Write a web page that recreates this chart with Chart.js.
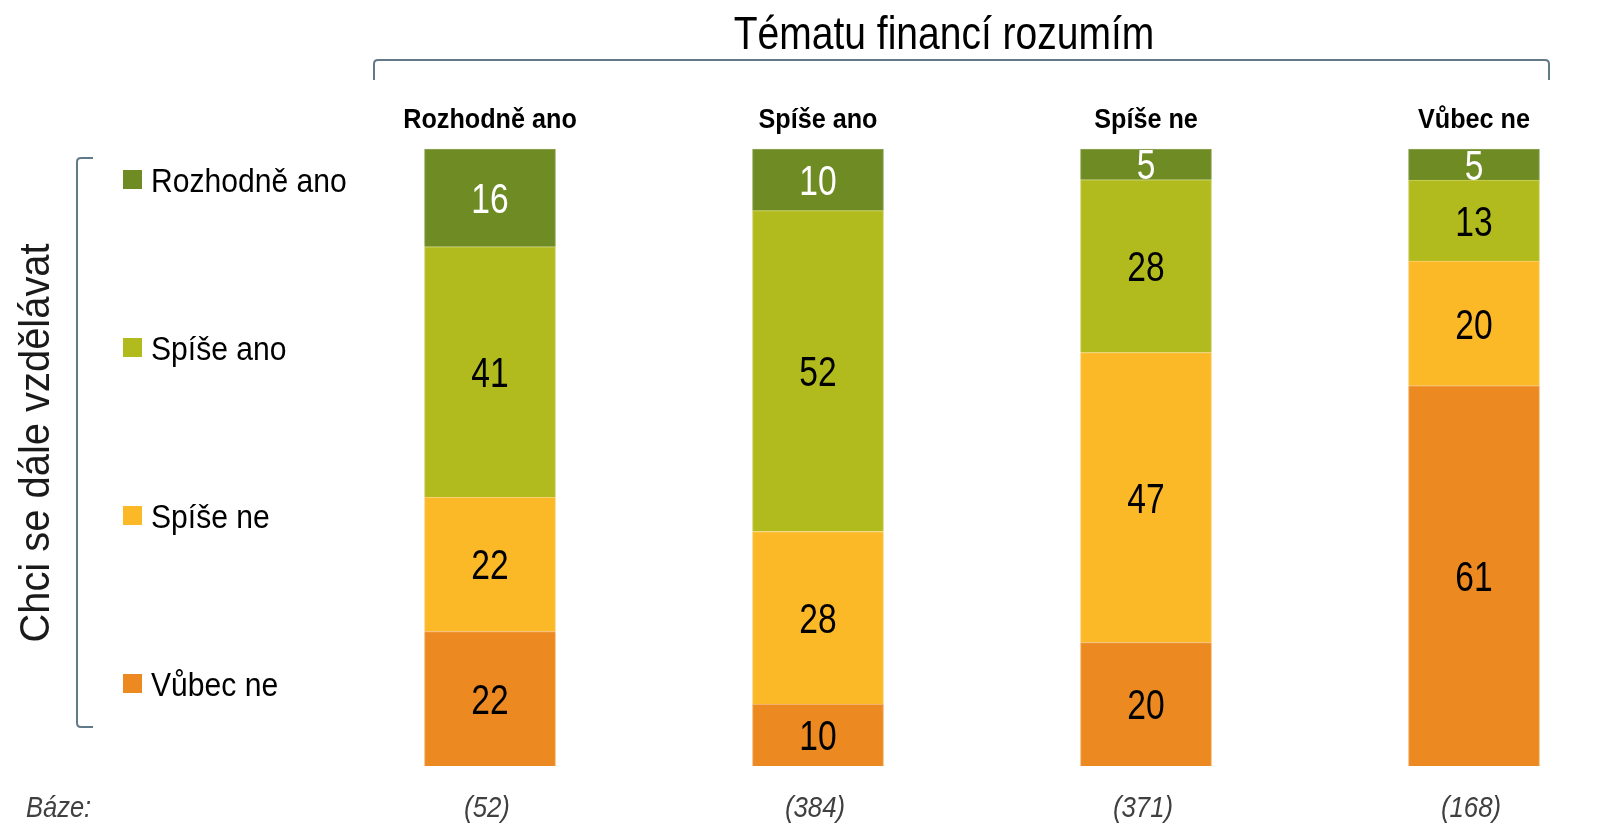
<!DOCTYPE html>
<html lang="cs">
<head>
<meta charset="utf-8">
<title>Tématu financí rozumím</title>
<script src="https://cdn.jsdelivr.net/npm/chart.js@4"></script>
<style>
  html, body { margin: 0; padding: 0; background: #ffffff; }
  canvas { display: block; }
</style>
</head>
<body>
<canvas id="graf" width="1624" height="826"></canvas>
<script>
// Data grafu
const kategorie = ['Rozhodně ano', 'Spíše ano', 'Spíše ne', 'Vůbec ne'];
const baze = ['(52)', '(384)', '(371)', '(168)'];
const rozhodneAno = [16, 10, 5, 5];
const spiseAno = [41, 52, 28, 13];
const spiseNe = [22, 28, 47, 20];
const vubecNe = [22, 10, 20, 61];

const barvy = {
    rozhodneAno: '#6e8b24',
    spiseAno: '#b2bb1e',
    spiseNe: '#fbb827',
    vubecNe: '#ec8a21'
};

const FONT = '"Liberation Sans", Arial, sans-serif';

// Součty pro každý sloupec (sloupce jsou do 100 %)
const soucty = kategorie.map((_, i) => rozhodneAno[i] + spiseAno[i] + spiseNe[i] + vubecNe[i]);
const podil = arr => arr.map((v, i) => v / soucty[i] * 100);

// Pomocná funkce na text (sx = vodorovné zúžení písma)
function text(ctx, s, x, y, font, barva, align, sx) {
    ctx.save();
    ctx.translate(x, y);
    ctx.scale(sx, 1);
    ctx.font = font;
    ctx.fillStyle = barva;
    ctx.textAlign = align;
    ctx.textBaseline = 'alphabetic';
    ctx.fillText(s, 0, 0);
    ctx.restore();
}

// Popisky, legenda, závorky a nadpisy
const popisky = {
    id: 'popisky',
    afterDatasetsDraw(chart) {
        const ctx = chart.ctx;
        const xs = chart.scales.x;

        // hodnoty uvnitř segmentů
        chart.data.datasets.forEach((ds, di) => {
            const meta = chart.getDatasetMeta(di);
            meta.data.forEach((el, i) => {
                const stred = (el.y + el.base) / 2;
                text(ctx, String(ds.hodnoty[i]), el.x, stred + 15, '42px ' + FONT, ds.barvaTextu, 'center', 0.8);
            });
        });

        // nadpis nahoře
        text(ctx, 'Tématu financí rozumím', 944, 49, '47px ' + FONT, '#000000', 'center', 0.83);

        // horní závorka
        ctx.save();
        ctx.strokeStyle = '#62798a';
        ctx.lineWidth = 2;
        ctx.beginPath();
        ctx.moveTo(374, 80);
        ctx.lineTo(374, 64);
        ctx.quadraticCurveTo(374, 60, 378, 60);
        ctx.lineTo(1545, 60);
        ctx.quadraticCurveTo(1549, 60, 1549, 64);
        ctx.lineTo(1549, 80);
        ctx.stroke();

        // levá závorka
        ctx.beginPath();
        ctx.moveTo(93, 158);
        ctx.lineTo(81, 158);
        ctx.quadraticCurveTo(77, 158, 77, 162);
        ctx.lineTo(77, 723);
        ctx.quadraticCurveTo(77, 727, 81, 727);
        ctx.lineTo(93, 727);
        ctx.stroke();
        ctx.restore();

        // názvy sloupců
        kategorie.forEach((k, i) => {
            text(ctx, k, xs.getPixelForValue(i), 128, 'bold 28px ' + FONT, '#000000', 'center', 0.9);
        });

        // báze
        text(ctx, 'Báze:', 26, 817, 'italic 30px ' + FONT, '#404040', 'left', 0.85);
        baze.forEach((b, i) => {
            text(ctx, b, xs.getPixelForValue(i) - 3, 817, 'italic 30px ' + FONT, '#404040', 'center', 0.86);
        });

        // legenda (shora dolů)
        const legendaY = [180, 348, 516, 684];
        chart.data.datasets.slice().reverse().forEach((ds, i) => {
            const y = legendaY[i];
            ctx.fillStyle = ds.backgroundColor;
            ctx.fillRect(123, y - 10, 19, 19);
            text(ctx, ds.label, 151, y + 12, '34px ' + FONT, '#000000', 'left', 0.885);
        });

        // svislý popisek
        ctx.save();
        ctx.translate(49, 443);
        ctx.rotate(-Math.PI / 2);
        ctx.scale(0.95, 1);
        ctx.font = '42px ' + FONT;
        ctx.fillStyle = '#1a1a1a';
        ctx.textAlign = 'center';
        ctx.textBaseline = 'alphabetic';
        ctx.fillText('Chci se dále vzdělávat', 0, 0);
        ctx.restore();
    }
};

function dataset(label, hodnoty, barva, okraj, barvaTextu) {
    return {
        label: label,
        hodnoty: hodnoty,
        data: podil(hodnoty),
        backgroundColor: barva,
        borderColor: okraj,
        borderWidth: 1,
        barThickness: 131,
        barvaTextu: barvaTextu,
        clip: false
    };
}

new Chart(document.getElementById('graf'), {
    type: 'bar',
    data: {
        labels: kategorie,
        datasets: [
            dataset('Vůbec ne', vubecNe, barvy.vubecNe, '#f3b06a', '#000000'),
            dataset('Spíše ne', spiseNe, barvy.spiseNe, '#fcd06e', '#000000'),
            dataset('Spíše ano', spiseAno, barvy.spiseAno, '#cbd160', '#000000'),
            dataset('Rozhodně ano', rozhodneAno, barvy.rozhodneAno, '#93a95e', '#ffffff')
        ]
    },
    options: {
        responsive: false,
        animation: false,
        devicePixelRatio: 1,
        layout: { padding: { left: 490, right: 150, top: 149, bottom: 60 } },
        plugins: {
            legend: { display: false },
            tooltip: { enabled: false }
        },
        scales: {
            x: { stacked: true, offset: false, display: false },
            y: { stacked: true, min: 0, max: 100, display: false }
        }
    },
    plugins: [popisky]
});
</script>
</body>
</html>
